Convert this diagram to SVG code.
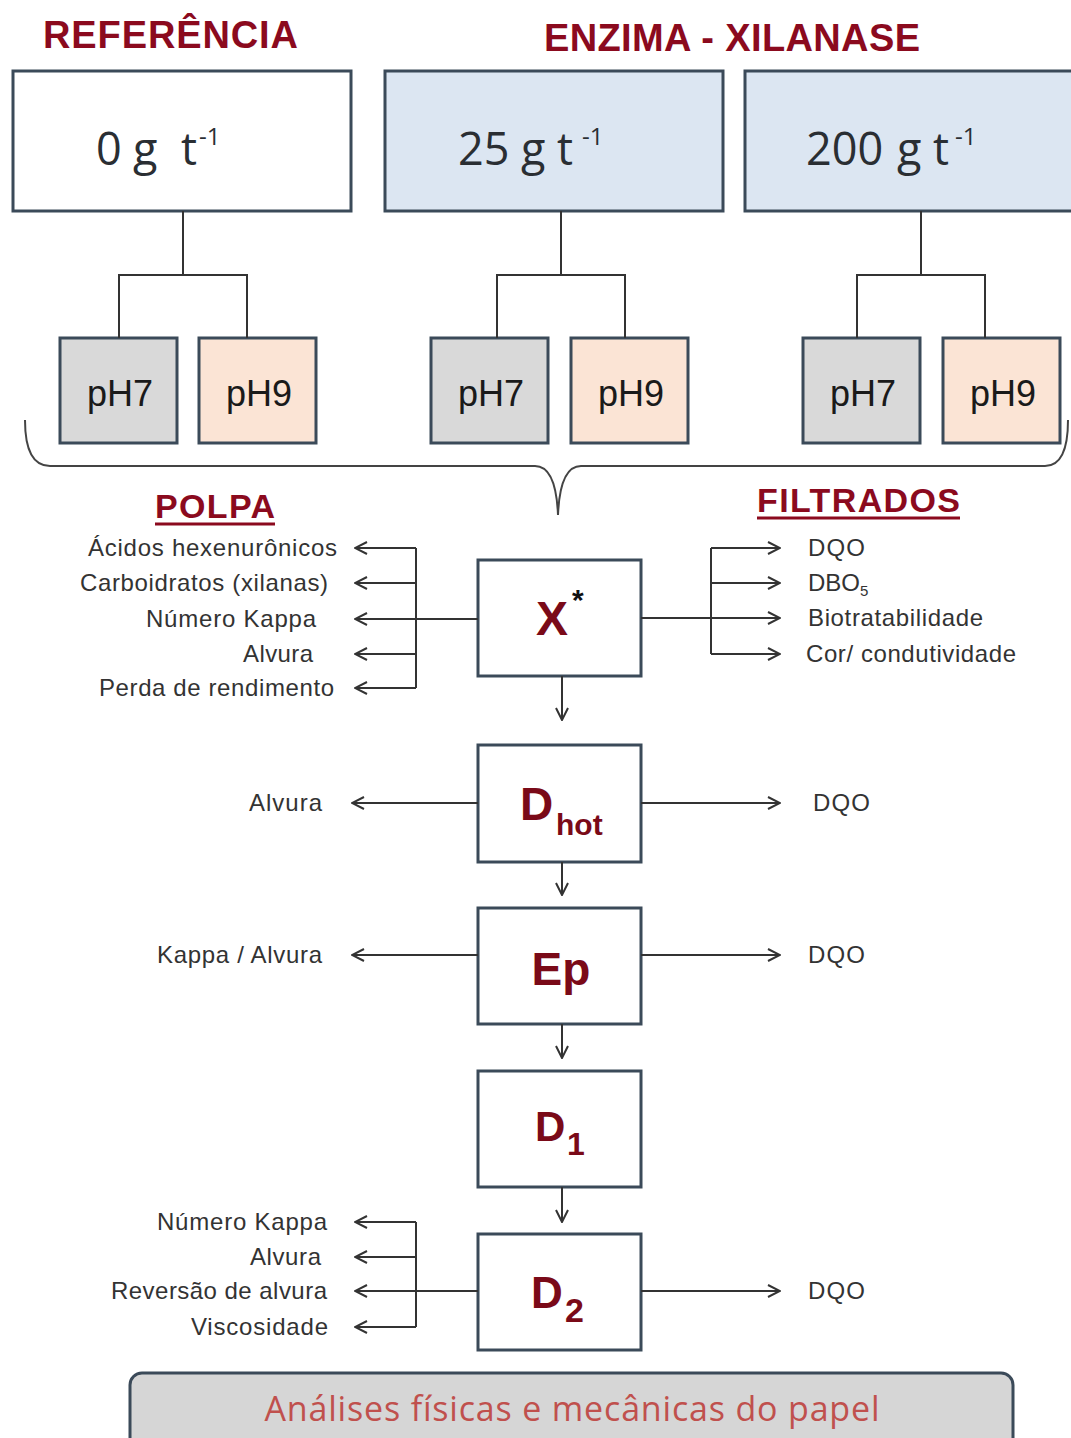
<svg xmlns="http://www.w3.org/2000/svg" width="1071" height="1438" viewBox="0 0 1071 1438">
<defs>
<style>
.title{font-family:"Liberation Sans",Arial,sans-serif;font-weight:bold;fill:#8B0A1E;}
.box{stroke:#3B4A59;stroke-width:3;}
.dose{font-family:"Open Sans","Noto Sans",sans-serif;font-size:45px;fill:#2A2E33;}
.sup{font-family:"Open Sans","Noto Sans",sans-serif;font-size:24px;fill:#2A2E33;}
.ph{font-family:"Liberation Sans",Arial,sans-serif;font-size:36px;fill:#1A1A1A;text-anchor:middle;}
.lbl{font-family:"Liberation Sans",Arial,sans-serif;font-size:24px;fill:#333;}
.l{text-anchor:end;}
.stage{font-family:"Liberation Sans",Arial,sans-serif;font-weight:bold;fill:#7A0A18;}
.ln{stroke:#333;stroke-width:2;fill:none;}
.arr{stroke:#333;stroke-width:2;fill:none;marker-end:url(#ah);}
</style>
<marker id="ah" viewBox="0 0 14 14" refX="13" refY="7" markerWidth="14" markerHeight="14" markerUnits="userSpaceOnUse" orient="auto">
<path d="M1,1 L13,7 L1,13" fill="none" stroke="#333" stroke-width="2"/>
</marker>
</defs>
<rect width="1071" height="1438" fill="#fff"/>

<text class="title" x="43" y="48" font-size="38" textLength="255">REFERÊNCIA</text>
<text class="title" x="544" y="51" font-size="38" textLength="376">ENZIMA - XILANASE</text>

<g id="ref0">
<rect class="box" x="13" y="71" width="338" height="140" fill="#fff"/>
<text class="dose" x="96" y="165">0</text><text class="dose" x="133" y="165">g</text><text class="dose" x="181" y="165">t</text><text class="sup" x="199" y="145">-1</text>
</g>
<g id="enz25">
<rect class="box" x="385" y="71" width="338" height="140" fill="#DCE6F2"/>
<text class="dose" x="458" y="165">25</text><text class="dose" x="521" y="165">g</text><text class="dose" x="557" y="165">t</text><text class="sup" x="582" y="145">-1</text>
</g>
<g id="enz200">
<rect class="box" x="745" y="71" width="340" height="140" fill="#DCE6F2"/>
<text class="dose" x="806" y="165">200</text><text class="dose" x="897" y="165">g</text><text class="dose" x="933" y="165">t</text><text class="sup" x="955" y="145">-1</text>
</g>

<g id="ph7a"><rect class="box" x="60" y="338" width="117" height="105" fill="#D9D9D9"/><text class="ph" x="120" y="406">pH7</text></g>
<g id="ph9a"><rect class="box" x="199" y="338" width="117" height="105" fill="#FBE4D5"/><text class="ph" x="259" y="406">pH9</text></g>
<g id="ph7b"><rect class="box" x="431" y="338" width="117" height="105" fill="#D9D9D9"/><text class="ph" x="491" y="406">pH7</text></g>
<g id="ph9b"><rect class="box" x="571" y="338" width="117" height="105" fill="#FBE4D5"/><text class="ph" x="631" y="406">pH9</text></g>
<g id="ph7c"><rect class="box" x="803" y="338" width="117" height="105" fill="#D9D9D9"/><text class="ph" x="863" y="406">pH7</text></g>
<g id="ph9c"><rect class="box" x="943" y="338" width="117" height="105" fill="#FBE4D5"/><text class="ph" x="1003" y="406">pH9</text></g>

<g id="brace"><path d="M25,420 Q25,466 50,466 L535,466 Q556,466 558,515 Q560,466 581,466 L1045,466 Q1068,466 1068,420" fill="none" stroke="#444" stroke-width="2"/></g>

<g id="polpa">
<text class="title" x="155" y="518" font-size="34" textLength="120">POLPA</text>
<line x1="155" y1="524" x2="275" y2="524" stroke="#8B0A1E" stroke-width="3"/>
</g>
<g id="filtrados">
<text class="title" x="757" y="512" font-size="34" textLength="203">FILTRADOS</text>
<line x1="757" y1="518" x2="960" y2="518" stroke="#8B0A1E" stroke-width="3"/>
</g>

<g id="X">
<rect class="box" x="478" y="560" width="163" height="116" fill="#fff"/>
<text class="stage" x="536" y="635" font-size="48">X</text>
<text x="572" y="610" font-family="Liberation Sans,Arial,sans-serif" font-weight="bold" font-size="30" fill="#111">*</text>
</g>
<g id="Dhot">
<rect class="box" x="478" y="745" width="163" height="117" fill="#fff"/>
<text class="stage" x="520" y="820" font-size="46">D</text><text class="stage" x="556" y="835" font-size="30">hot</text>
</g>
<g id="Ep">
<rect class="box" x="478" y="908" width="163" height="116" fill="#fff"/>
<text class="stage" x="561" y="985" font-size="46" text-anchor="middle">Ep</text>
</g>
<g id="D1">
<rect class="box" x="478" y="1071" width="163" height="116" fill="#fff"/>
<text class="stage" x="535" y="1141" font-size="42">D</text><text class="stage" x="567" y="1155" font-size="32">1</text>
</g>
<g id="D2">
<rect class="box" x="478" y="1234" width="163" height="116" fill="#fff"/>
<text class="stage" x="531" y="1308" font-size="44">D</text><text class="stage" x="565" y="1322" font-size="34">2</text>
</g>

<g id="labels">
<text class="lbl l" x="337" y="556" textLength="249">Ácidos hexenurônicos</text>
<text class="lbl l" x="328" y="591" textLength="248">Carboidratos (xilanas)</text>
<text class="lbl l" x="316" y="627" textLength="170">Número Kappa</text>
<text class="lbl l" x="313" y="662" textLength="70">Alvura</text>
<text class="lbl l" x="334" y="696" textLength="235">Perda de rendimento</text>
<text class="lbl" x="808" y="556" textLength="57">DQO</text>
<text class="lbl" x="808" y="591">DBO<tspan font-size="15" dy="5">5</tspan></text>
<text class="lbl" x="808" y="626" textLength="175">Biotratabilidade</text>
<text class="lbl" x="806" y="662" textLength="210">Cor/ condutividade</text>
<text class="lbl l" x="322" y="811" textLength="73">Alvura</text>
<text class="lbl" x="813" y="811" textLength="57">DQO</text>
<text class="lbl l" x="322" y="963" textLength="165">Kappa / Alvura</text>
<text class="lbl" x="808" y="963" textLength="57">DQO</text>
<text class="lbl l" x="327" y="1230" textLength="170">Número Kappa</text>
<text class="lbl l" x="321" y="1265" textLength="71">Alvura</text>
<text class="lbl l" x="327" y="1299" textLength="216">Reversão de alvura</text>
<text class="lbl l" x="328" y="1335" textLength="137">Viscosidade</text>
<text class="lbl" x="808" y="1299" textLength="57">DQO</text>
</g>

<g id="connectors">
<path class="ln" d="M183,211 V275 M119,338 V275 H247 V338"/>
<path class="ln" d="M561,211 V275 M497,338 V275 H625 V338"/>
<path class="ln" d="M921,211 V275 M857,338 V275 H985 V338"/>
<path class="ln" d="M416,548 V688 M478,619 H416"/>
<path class="arr" d="M416,548 H355"/>
<path class="arr" d="M416,583 H355"/>
<path class="arr" d="M416,619 H355"/>
<path class="arr" d="M416,654 H355"/>
<path class="arr" d="M416,688 H355"/>
<path class="ln" d="M641,618 H711 M711,548 V654"/>
<path class="arr" d="M711,548 H780"/>
<path class="arr" d="M711,583 H780"/>
<path class="arr" d="M711,618 H780"/>
<path class="arr" d="M711,654 H780"/>
<path class="arr" d="M562,676 V720"/>
<path class="arr" d="M478,803 H352"/>
<path class="arr" d="M641,803 H780"/>
<path class="arr" d="M562,862 V895"/>
<path class="arr" d="M478,955 H352"/>
<path class="arr" d="M641,955 H780"/>
<path class="arr" d="M562,1024 V1058"/>
<path class="arr" d="M562,1187 V1222"/>
<path class="ln" d="M416,1222 V1327 M478,1291 H416"/>
<path class="arr" d="M416,1222 H355"/>
<path class="arr" d="M416,1257 H355"/>
<path class="arr" d="M416,1291 H355"/>
<path class="arr" d="M416,1327 H355"/>
<path class="arr" d="M641,1291 H780"/>
</g>

<g id="analises">
<rect x="130" y="1373" width="883" height="90" rx="12" fill="#D6D6D6" stroke="#3B4A59" stroke-width="3"/>
<text x="572" y="1421" font-family="Open Sans,Noto Sans,sans-serif" font-size="34" fill="#C0504D" text-anchor="middle" textLength="615">Análises físicas e mecânicas do papel</text>
</g>
</svg>
